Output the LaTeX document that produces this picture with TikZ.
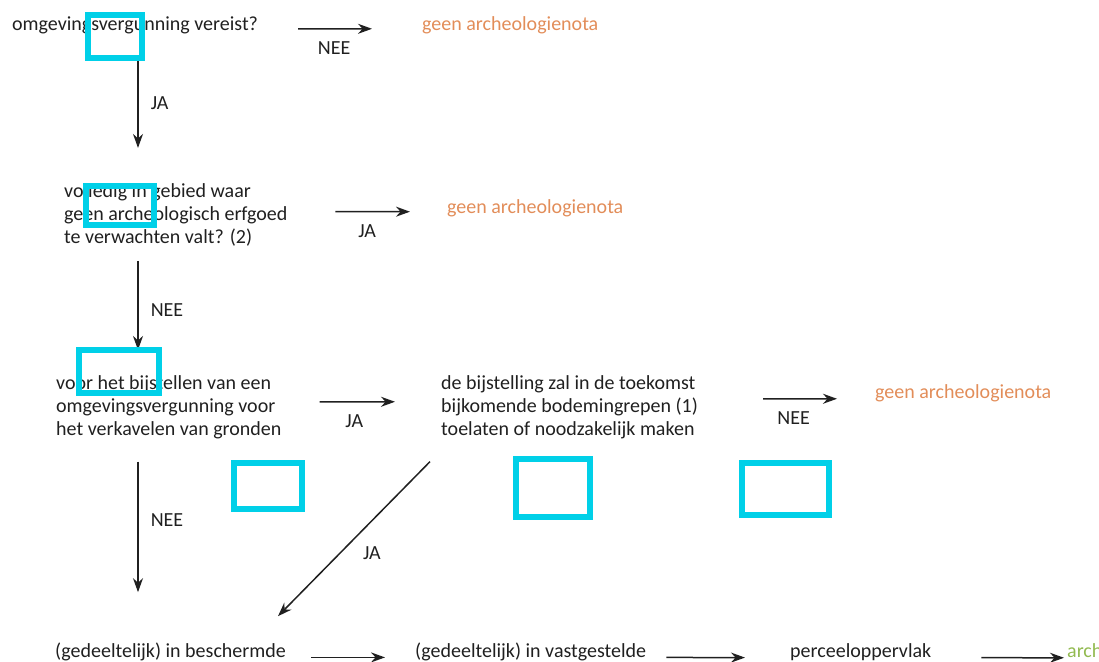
\documentclass[tikz,border=0pt]{standalone}
\usepackage{fontspec}
\setmainfont{Carlito}
\usepackage{xcolor}
\usetikzlibrary{arrows.meta}
\definecolor{tekstgrijs}{RGB}{32,32,32}
\definecolor{notaoranje}{RGB}{226,141,89}
\definecolor{notagroen}{RGB}{146,186,80}
\definecolor{markcyaan}{RGB}{0,208,232}
\begin{document}
\begin{tikzpicture}[x=1pt,y=-1pt,
	every node/.style={inner sep=0pt,font=\fontsize{20}{23}\selectfont,text=tekstgrijs},
	vraag/.style={anchor=base west,align=left},
	nota/.style={anchor=base west,text=notaoranje},
	pijl/.style={line width=1.5pt,draw=tekstgrijs,-{Stealth[length=14pt,width=10pt]}},
	markering/.style={draw=markcyaan,line width=5.5pt}]
				\useasboundingbox (0,0) rectangle (1099,661);
				\clip (0,0) rectangle (1099,661);
				\coordinate (spine) at (138,0);
				% vragen en uitkomsten (base = laatste regel)
				\node[vraag] (q1) at (12,31) {omgevingsvergunning vereist?};
				\node[nota] (n1) at (422,31) {geen archeologienota};
				\node[vraag] (q2) at (64,243) {volledig in gebied waar\\geen archeologisch erfgoed\\te verwachten valt? (2)};
				\node[nota] (n2) at (447,213) {geen archeologienota};
				\node[vraag] (q3) at (56,435) {voor het bijstellen van een\\omgevingsvergunning voor\\het verkavelen van gronden};
				\node[vraag] (q4) at (441,435) {de bijstelling zal in de toekomst\\bijkomende bodemingrepen (1)\\toelaten of noodzakelijk maken};
				\node[nota] (n3) at (875,398) {geen archeologienota};
				\node[vraag] (b1) at (55,657) {(gedeeltelijk) in beschermde};
				\node[vraag] (b2) at (415,657) {(gedeeltelijk) in vastgestelde};
				\node[vraag] (b3) at (790,657) {perceeloppervlak};
				\node[nota,text=notagroen] (n4) at (1067,657) {archeologienota};
				% pijlen
				\draw[pijl,shorten <=40pt,shorten >=50pt] ([yshift=-3pt]q1.east) -- node[below=12pt,xshift=-6pt]{NEE} ([yshift=-3pt]n1.west);
				\draw[pijl,shorten <=25pt,shorten >=35pt] (q1.south -| spine) -- node[right=12pt,yshift=6pt]{JA} (q2.north -| spine);
				\draw[pijl,shorten <=48pt,shorten >=37pt] ([yshift=3pt]q2.east) -- node[below=12pt]{JA} ([yshift=-4pt]n2.west);
				\draw[pijl,shorten <=15pt,shorten >=25pt] (q2.south -| spine) -- node[right=12pt]{NEE} (q3.north -| spine);
				\draw[pijl,shorten <=38pt,shorten >=46pt] ([yshift=5pt]q3.east) -- node[below=12pt,xshift=-7pt]{JA} ([yshift=5pt]q4.west);
				\draw[pijl,shorten <=65pt,shorten >=38pt] ([yshift=8pt]q4.east) -- node[below=12pt,xshift=7pt]{NEE} ([yshift=-6pt]n3.west);
				\draw[pijl,shorten <=23pt,shorten >=50pt] (q3.south -| spine) -- node[right=12pt,yshift=20pt]{NEE} (b1.north -| spine);
				\draw[pijl] ([xshift=-11pt,yshift=-23pt]q4.south west) -- node[pos=0.59,right=22pt]{JA} ([xshift=223pt,yshift=26pt]b1.north west);
				\draw[pijl,shorten <=25pt,shorten >=30pt] ([yshift=-6pt]b1.east) -- ([yshift=-6pt]b2.west);
				\draw[pijl,shorten <=20pt,shorten >=45pt] ([yshift=-6pt]b2.east) -- ([yshift=-6pt]b3.west);
				\draw[pijl,shorten <=50pt,shorten >=3pt] ([yshift=-6pt]b3.east) -- ([yshift=-6pt]n4.west);
				% markeringen
				\draw[markering] (88,15) rectangle (142,58);
				\draw[markering] (86,186) rectangle (154,225);
				\draw[markering] (79,350) rectangle (159,393);
				\draw[markering] (234,463) rectangle (302,509);
				\draw[markering] (516,459) rectangle (590,517);
				\draw[markering] (742,463) rectangle (829,515);
			\end{tikzpicture}
\end{document}
